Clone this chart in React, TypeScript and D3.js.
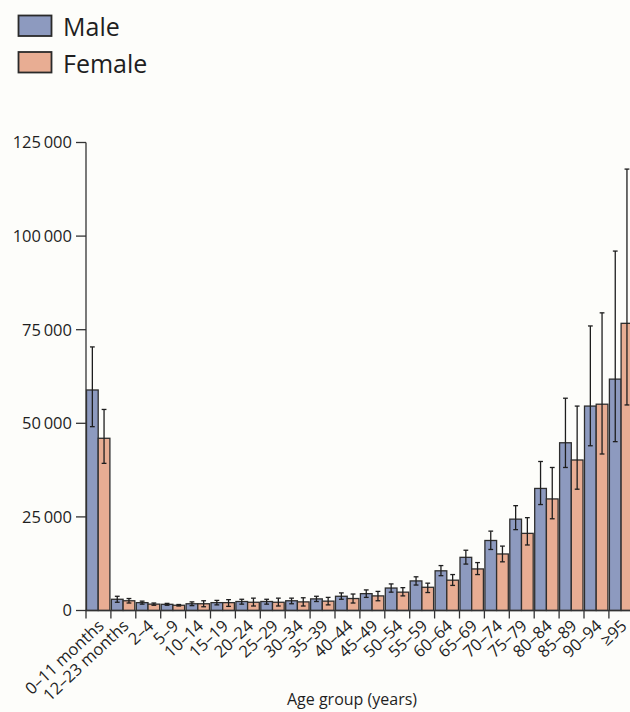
import React from "react";
import * as d3 from "d3";

const categories = [
  "0–11 months", "12–23 months", "2–4", "5–9", "10–14", "15–19", "20–24", "25–29",
  "30–34", "35–39", "40–44", "45–49", "50–54", "55–59", "60–64", "65–69",
  "70–74", "75–79", "80–84", "85–89", "90–94", "≥95",
];
const maleValues = [58900, 3000, 2100, 1650, 1800, 2100, 2400, 2400, 2600, 3100, 3800, 4500, 6000, 7900, 10600, 14200, 18700, 24400, 32600, 44800, 54600, 61800];
const maleLower = [49100, 2200, 1700, 1400, 1300, 1500, 1700, 1700, 1800, 2400, 3000, 3500, 4900, 6800, 9300, 12400, 16300, 21600, 28300, 38200, 44000, 45100];
const maleUpper = [70400, 3800, 2500, 1900, 2300, 2700, 3000, 3000, 3300, 3800, 4700, 5500, 7100, 9000, 12000, 16100, 21200, 28000, 39800, 56700, 76000, 96000];
const femaleValues = [46000, 2600, 1700, 1400, 1800, 2100, 2200, 2200, 2300, 2500, 3200, 3900, 4900, 6200, 8100, 11100, 15100, 20600, 29800, 40200, 55100, 76700];
const femaleLower = [39300, 2000, 1400, 1200, 1000, 1100, 1200, 1200, 1200, 1500, 2000, 2600, 3900, 4800, 6700, 9600, 13000, 17500, 24500, 32400, 41800, 54900];
const femaleUpper = [53700, 3200, 2000, 1600, 2600, 2900, 3300, 3300, 3400, 3500, 4400, 5100, 6100, 7300, 9600, 12800, 17200, 24800, 38200, 54600, 79500, 117900];
const yTicks = [0, 25000, 50000, 75000, 100000, 125000];
const seriesNames = ["Male", "Female"];
const seriesColors = ["#8d9abf", "#e8ad93"];

const FONT = "'Open Sans', Lato, sans-serif";

const fmt = (v: number) => {
  if (v < 1000) return String(v);
  const s = String(v);
  return s.slice(0, s.length - 3) + "\u2009" + s.slice(s.length - 3);
};

export default function App() {
  const W = 630, H = 712;
  const x0 = 85.5;
  const band = 24.9;
  const x = d3.scaleBand<string>().domain(categories).range([x0, x0 + band * categories.length]).padding(0);
  const y = d3.scaleLinear().domain([0, 125000]).range([610.5, 142.5]);
  const bw = x.bandwidth();
  const barW = (bw - 1.5) / 2;
  const stroke = "#2e2e2e";
  const capW = 2.4;
  const txt = "#1f1f1f";

  const bars: React.ReactNode[] = [];
  categories.forEach((c, i) => {
    const bx = x(c)!;
    const sets = [
      { v: maleValues[i], lo: maleLower[i], hi: maleUpper[i], col: seriesColors[0], xx: bx + 1 },
      { v: femaleValues[i], lo: femaleLower[i], hi: femaleUpper[i], col: seriesColors[1], xx: bx + 1 + barW },
    ];
    sets.forEach((s, k) => {
      const cx = s.xx + barW / 2;
      bars.push(
        <g key={c + k}>
          <rect x={s.xx} y={y(s.v)} width={barW} height={y(0) - y(s.v)} fill={s.col} stroke={stroke} strokeWidth={1.3} />
          <line x1={cx} x2={cx} y1={y(s.hi)} y2={y(s.lo)} stroke="#1e1e1e" strokeWidth={1.3} />
          <line x1={cx - capW} x2={cx + capW} y1={y(s.hi)} y2={y(s.hi)} stroke="#1e1e1e" strokeWidth={1.3} />
          <line x1={cx - capW} x2={cx + capW} y1={y(s.lo)} y2={y(s.lo)} stroke="#1e1e1e" strokeWidth={1.3} />
        </g>
      );
    });
  });

  return (
    <svg width={W} height={H} style={{ position: "absolute", left: 0, top: 0, background: "#fdfdfa" }} fontFamily={FONT}>
      <rect x={0} y={0} width={W} height={H} fill="#fdfdfa" />
      {/* legend */}
      {seriesNames.map((n, i) => (
        <g key={n}>
          <rect x={18.5} y={15.5 + i * 36.5} width={33} height={20.5} fill={seriesColors[i]} stroke="#2a2a2a" strokeWidth={1.8} />
          <text x={63} y={36 + i * 36.5} fontSize={25} fill={txt}>{n}</text>
        </g>
      ))}
      {bars}
      {/* y axis */}
      <line x1={x0 + 0.5} x2={x0 + 0.5} y1={y(125000)} y2={y(0)} stroke="#333" strokeWidth={1.3} />
      {yTicks.map((t) => (
        <g key={t}>
          <line x1={76} x2={x0 + 0.5} y1={y(t)} y2={y(t)} stroke="#333" strokeWidth={1.3} />
          <text x={72} y={y(t)} dy="0.36em" textAnchor="end" fontSize={16.5} fill={txt}>{fmt(t)}</text>
        </g>
      ))}
      {/* x axis */}
      <line x1={x0} x2={W} y1={y(0)} y2={y(0)} stroke="#333" strokeWidth={1.3} />
      {categories.map((c) => (
        <line key={"t" + c} x1={x(c)! + 0.5} x2={x(c)! + 0.5} y1={y(0)} y2={y(0) + 8} stroke="#333" strokeWidth={1.3} />
      ))}
      {categories.map((c) => {
        const cx = x(c)! + bw / 2 + 3;
        return (
          <text key={"l" + c} transform={`translate(${cx},${623}) rotate(-43)`} textAnchor="end" dy="0.35em" fontSize={16.5} fill={txt}>{c}</text>
        );
      })}
      <text x={352} y={705} textAnchor="middle" fontSize={16} fill={txt}>Age group (years)</text>
    </svg>
  );
}
